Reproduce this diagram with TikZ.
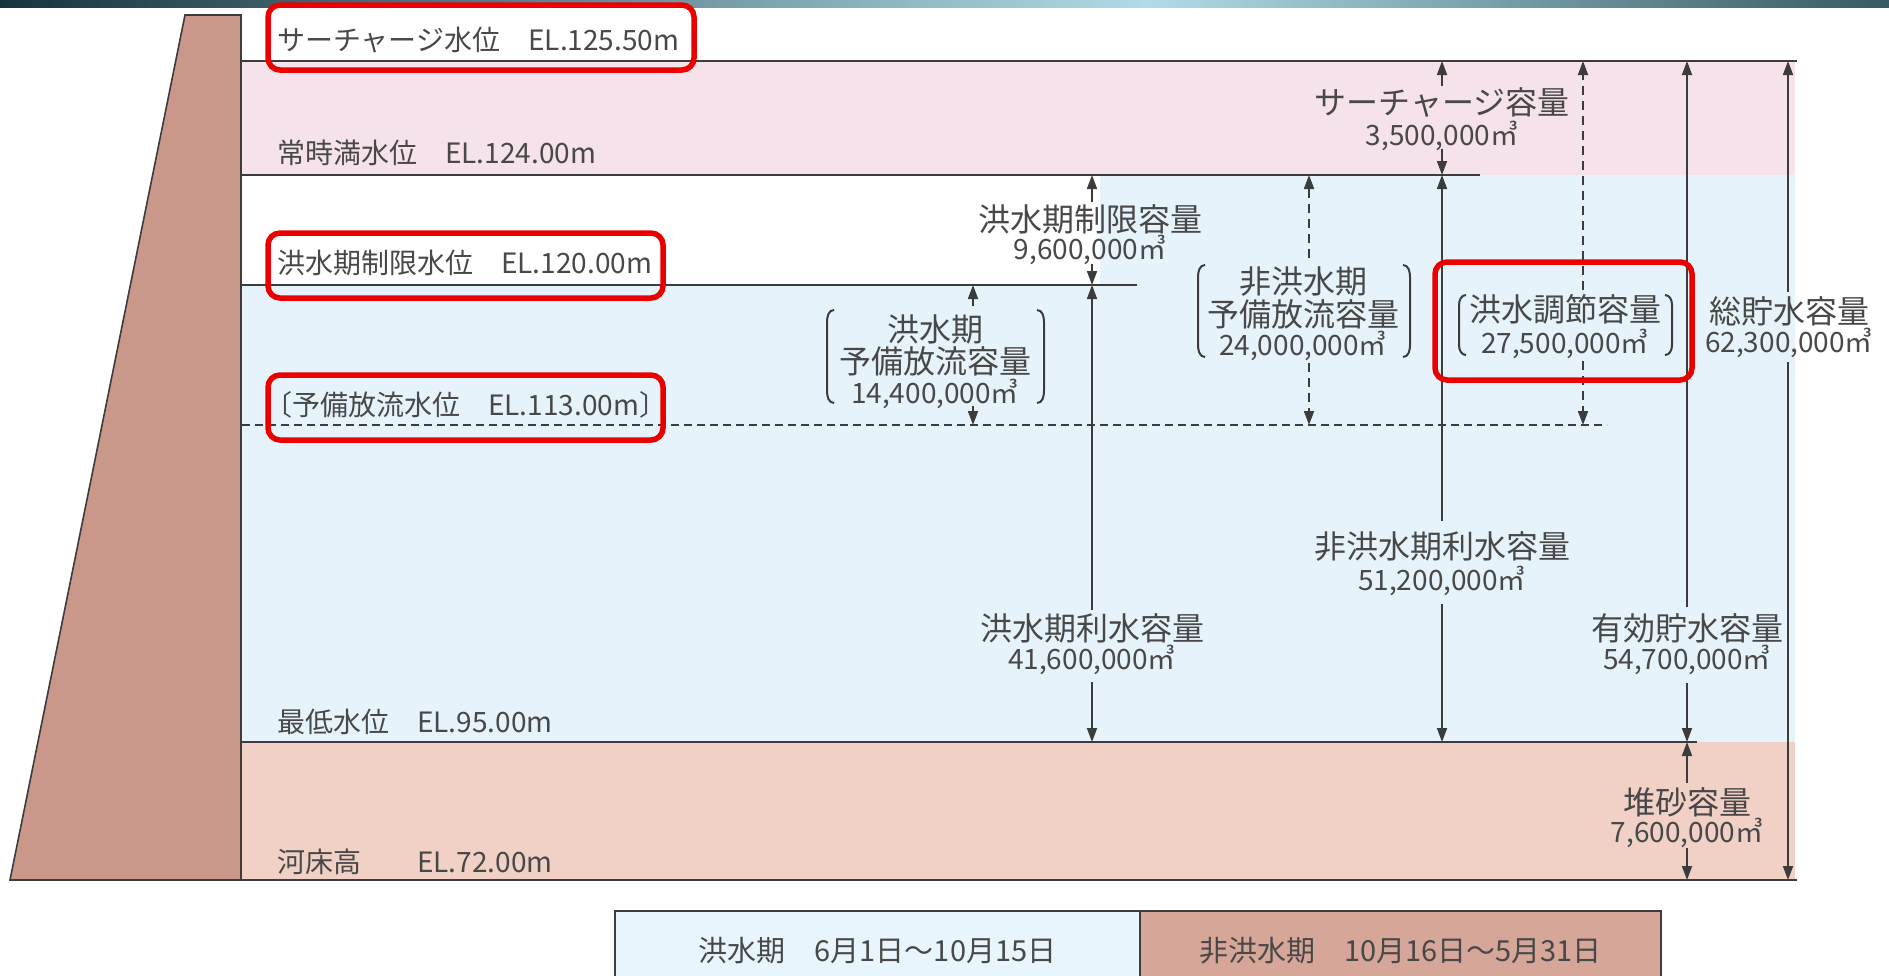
\documentclass[tikz,border=0pt]{standalone}
\usepackage{fontspec}
\setmainfont{Noto Sans CJK JP}
\usetikzlibrary{arrows.meta}
\definecolor{txt}{RGB}{72,72,72}
\definecolor{ln}{RGB}{60,60,60}
\definecolor{damc}{RGB}{201,152,138}
\definecolor{pinkband}{RGB}{246,226,234}
\definecolor{water}{RGB}{231,243,251}
\definecolor{sed}{RGB}{241,208,198}
\definecolor{legblue}{RGB}{233,245,252}
\definecolor{legbrown}{RGB}{214,166,152}
\definecolor{hired}{RGB}{235,0,0}
\definecolor{barA}{RGB}{22,52,62}
\definecolor{barB}{RGB}{175,220,230}
\definecolor{barC}{RGB}{55,90,100}
\begin{document}
\begin{tikzpicture}[x=1pt,y=-1pt,
  lvlline/.style={draw=ln,line width=2.4pt},
  lvldash/.style={draw=ln,line width=2.4pt,dash pattern=on 8pt off 5pt},
  lvltext/.style={font=\fontsize{28}{30}\selectfont,text=txt,anchor=west,inner sep=0pt},
  captitle/.style={font=\fontsize{32}{34}\selectfont,text=txt,inner sep=0pt},
  capnum/.style={font=\fontsize{28}{30}\selectfont,text=txt,inner sep=0pt},
  dimarrow/.style={draw=ln,line width=1.8pt,-{Triangle[length=14pt,width=10pt]}},
  dimdash/.style={dimarrow,dash pattern=on 9pt off 6pt},
  brk/.style={draw=ln,line width=2pt},
  hilite/.style={draw=hired,line width=5.5pt,rounded corners=12pt},
  legbox/.style={draw=ln,line width=2pt,font=\fontsize{29}{31}\selectfont,text=txt,anchor=north west,minimum height=80pt,inner sep=0pt}
]
\useasboundingbox (0,0) rectangle (1889,975);
% top bar
\shade[left color=barA,right color=barB] (0,0) rectangle (1150,7);
\shade[left color=barB,right color=barC] (1150,0) rectangle (1889,7);

% regions
\fill[pinkband] (242,61) rectangle (1795,175);
\fill[water] (1100,175) -- (1795,175) -- (1795,742) -- (242,742) -- (242,285) -- (1100,285) -- cycle;
\fill[sed] (242,742) rectangle (1795,880);

% dam
\draw[fill=damc,draw=ln,line width=1.6pt] (185,15) -- (241,15) -- (241,880) -- (10,880) -- cycle;

% level lines
\coordinate (sur0) at (242,61);  \coordinate (sur1) at (1797,61);
\coordinate (ful0) at (242,175); \coordinate (ful1) at (1480,175);
\coordinate (fld0) at (242,285); \coordinate (fld1) at (1137,285);
\coordinate (res0) at (242,425); \coordinate (res1) at (1607,425);
\coordinate (min0) at (242,742); \coordinate (min1) at (1697,742);
\coordinate (bed0) at (10,880);  \coordinate (bed1) at (1797,880);
\draw[lvlline] (sur0) -- (sur1);
\draw[lvlline] (ful0) -- (ful1);
\draw[lvlline] (fld0) -- (fld1);
\draw[lvldash] (res0) -- (res1);
\draw[lvlline] (min0) -- (min1);
\draw[lvlline] (bed0) -- (bed1);

% level labels
\node[lvltext] (t1) at (277,40) {サーチャージ水位　EL.125.50m};
\node[lvltext] (t2) at (277,153) {常時満水位　EL.124.00m};
\node[lvltext] (t3) at (277,263) {洪水期制限水位　EL.120.00m};
\node[lvltext] (t4) at (264,405) {〔予備放流水位　EL.113.00m〕};
\node[lvltext] (t5) at (277,722) {最低水位　EL.95.00m};
\node[lvltext] (t6) at (277,862) {河床高　　EL.72.00m};

% A1 surcharge capacity
\node[captitle] (c1t) at (1442,102) {サーチャージ容量};
\node[capnum] (c1n) at (1442,136) {3,500,000㎥};
\coordinate (a1a) at (1442,61); \coordinate (a1b) at (1442,86);
\coordinate (a1c) at (1442,149); \coordinate (a1d) at (1442,175);
\draw[dimarrow] (a1b) -- (a1a); \draw[dimarrow] (a1c) -- (a1d);

% A2 flood season limit capacity
\node[captitle] (c2t) at (1090,219) {洪水期制限容量};
\node[capnum] (c2n) at (1090,250) {9,600,000㎥};
\coordinate (a2a) at (1092,175); \coordinate (a2b) at (1092,202);
\coordinate (a2c) at (1092,264); \coordinate (a2d) at (1092,285);
\draw[dimarrow] (a2b) -- (a2a); \draw[dimarrow] (a2c) -- (a2d);

% A3 flood season preliminary release capacity
\node[captitle] (c3a) at (935,329) {洪水期};
\node[captitle] (c3b) at (935,361) {予備放流容量};
\node[capnum] (c3n) at (935,394) {14,400,000㎥};
\coordinate (a3a) at (973,285); \coordinate (a3b) at (973,306);
\coordinate (a3c) at (973,406); \coordinate (a3d) at (973,425);
\draw[dimarrow] (a3b) -- (a3a); \draw[dimarrow] (a3c) -- (a3d);
\draw[brk] (834,310) to[out=180,in=90] (827,322) -- (827,391) to[out=-90,in=180] (834,403);
\draw[brk] (1037,310) to[out=0,in=90] (1044,322) -- (1044,391) to[out=-90,in=0] (1037,403);

% A4 flood season water use capacity
\node[captitle] (c4t) at (1092,628) {洪水期利水容量};
\node[capnum] (c4n) at (1092,660) {41,600,000㎥};
\coordinate (a4a) at (1092,285); \coordinate (a4b) at (1092,610);
\coordinate (a4c) at (1092,682); \coordinate (a4d) at (1092,742);
\draw[dimarrow] (a4b) -- (a4a); \draw[dimarrow] (a4c) -- (a4d);

% A5 non-flood season preliminary release capacity
\node[captitle] (c5a) at (1303,282) {非洪水期};
\node[captitle] (c5b) at (1303,314) {予備放流容量};
\node[capnum] (c5n) at (1303,346) {24,000,000㎥};
\coordinate (a5a) at (1309,175); \coordinate (a5b) at (1309,258);
\coordinate (a5c) at (1309,363); \coordinate (a5d) at (1309,425);
\draw[dimdash] (a5b) -- (a5a); \draw[dimdash] (a5c) -- (a5d);
\draw[brk] (1205,265) to[out=180,in=90] (1198,277) -- (1198,345) to[out=-90,in=180] (1205,357);
\draw[brk] (1403,265) to[out=0,in=90] (1410,277) -- (1410,345) to[out=-90,in=0] (1403,357);

% A6 non-flood season water use capacity
\node[captitle] (c6t) at (1442,547) {非洪水期利水容量};
\node[capnum] (c6n) at (1442,581) {51,200,000㎥};
\coordinate (a6a) at (1442,175); \coordinate (a6b) at (1442,521);
\coordinate (a6c) at (1442,604); \coordinate (a6d) at (1442,742);
\draw[dimarrow] (a6b) -- (a6a); \draw[dimarrow] (a6c) -- (a6d);

% A7 flood control capacity
\node[captitle] (c7t) at (1565,309) {洪水調節容量};
\node[capnum] (c7n) at (1565,344) {27,500,000㎥};
\coordinate (a7a) at (1583,61); \coordinate (a7b) at (1583,290);
\coordinate (a7c) at (1583,361); \coordinate (a7d) at (1583,425);
\draw[dimdash] (a7b) -- (a7a); \draw[dimdash] (a7c) -- (a7d);
\draw[brk] (1466,295) to[out=180,in=90] (1459,305) -- (1459,345) to[out=-90,in=180] (1466,355);
\draw[brk] (1665,295) to[out=0,in=90] (1672,305) -- (1672,345) to[out=-90,in=0] (1665,355);

% A8 effective storage capacity
\node[captitle] (c8t) at (1687,628) {有効貯水容量};
\node[capnum] (c8n) at (1687,660) {54,700,000㎥};
\coordinate (a8a) at (1687,61); \coordinate (a8b) at (1687,607);
\coordinate (a8c) at (1687,683); \coordinate (a8d) at (1687,742);
\draw[dimarrow] (a8b) -- (a8a); \draw[dimarrow] (a8c) -- (a8d);

% A9 total storage capacity
\node[captitle] (c9t) at (1789,311) {総貯水容量};
\node[capnum] (c9n) at (1789,343) {62,300,000㎥};
\coordinate (a9a) at (1788,61); \coordinate (a9b) at (1788,292);
\coordinate (a9c) at (1788,362); \coordinate (a9d) at (1788,880);
\draw[dimarrow] (a9b) -- (a9a); \draw[dimarrow] (a9c) -- (a9d);

% A10 sediment capacity
\node[captitle] (c10t) at (1687,802) {堆砂容量};
\node[capnum] (c10n) at (1687,833) {7,600,000㎥};
\coordinate (b1a) at (1687,742); \coordinate (b1b) at (1687,783);
\coordinate (b1c) at (1687,848); \coordinate (b1d) at (1687,880);
\draw[dimarrow] (b1b) -- (b1a); \draw[dimarrow] (b1c) -- (b1d);

% legend
\node[legbox,fill=legblue,minimum width=525pt] (lg1) at (614,910) {洪水期　6月1日～10月15日};
\node[legbox,fill=legbrown,minimum width=521pt] (lg2) at (1139,910) {非洪水期　10月16日～5月31日};

% highlight boxes
\draw[hilite] (268,5) rectangle (694,70);
\draw[hilite] (268,233) rectangle (663,298);
\draw[hilite] (268,375) rectangle (663,440);
\draw[hilite] (1435,262) rectangle (1692,380);
\end{tikzpicture}
\end{document}
